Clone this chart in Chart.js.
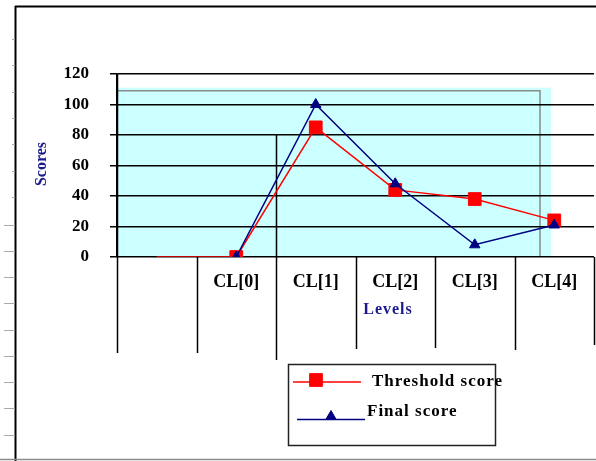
<!DOCTYPE html>
<html><head><meta charset="utf-8">
<script src="https://cdn.jsdelivr.net/npm/chart.js@4/dist/chart.umd.min.js"></script>
<style>html,body{margin:0;padding:0;background:#fff;overflow:hidden}</style>
</head><body>
<canvas id="c" width="596" height="461"></canvas>
<script>
const categories = ['', 'CL[0]', 'CL[1]', 'CL[2]', 'CL[3]', 'CL[4]'];
const thresholdScore = [0, 0, 85, 44, 38, 24];
const finalScore = [null, 0, 100, 48, 8, 21];
const yTickValues = [0, 20, 40, 60, 80, 100, 120];
const seriesNames = ['Threshold score', 'Final score'];
const yTitle = 'Scores';
const xTitle = 'Levels';

const RED = '#ff0000', NAVY = '#000080', TITLE_BLUE = '#1a1a8c';
const FONT = 'Liberation Serif';

const deco = {
  id: 'deco',
  beforeDraw(chart) {
    const {ctx, chartArea: ca, scales: {x, y}} = chart;
    ctx.save();
    ctx.fillStyle = '#fff';
    ctx.fillRect(0, 0, chart.width, chart.height);
    const cTop = y.getPixelForValue(111);
    ctx.fillStyle = '#ccffff';
    ctx.fillRect(ca.left, cTop, (ca.right - 43) - ca.left, ca.bottom - cTop);
    ctx.strokeStyle = '#8a8a8a';
    ctx.lineWidth = 1.5;
    ctx.beginPath();
    const gy = y.getPixelForValue(109);
    ctx.moveTo(ca.left, gy);
    ctx.lineTo(ca.right - 54, gy);
    ctx.lineTo(ca.right - 54, ca.bottom);
    ctx.stroke();
    ctx.restore();
  },
  beforeDatasetsDraw(chart) {
    const {ctx, chartArea: ca, scales: {x, y}} = chart;
    const bottoms = [353, 353, 360, 349, 348, 350, 345];
    ctx.save();
    ctx.strokeStyle = '#000';
    ctx.lineWidth = 1.5;
    for (let i = 0; i <= categories.length; i++) {
      const bx = Math.round(x.getPixelForValue(i - 0.5)) + 0.5;
      const top = i === 0 ? ca.top : (i === 2 ? y.getPixelForValue(80) : ca.bottom);
      ctx.beginPath();
      ctx.moveTo(bx, top);
      ctx.lineTo(bx, bottoms[i]);
      ctx.stroke();
    }
    ctx.restore();
  },
  afterDraw(chart) {
    const {ctx} = chart;
    const ds = chart.data.datasets;
    ctx.save();
    ctx.fillStyle = TITLE_BLUE;
    ctx.font = `bold 16px "${FONT}"`;
    ctx.textAlign = 'center';
    ctx.textBaseline = 'middle';
    ctx.save();
    ctx.translate(42, 164);
    ctx.rotate(-Math.PI / 2);
    ctx.fillText(yTitle, 0, 0);
    ctx.restore();
    ctx.font = `bold 16px "${FONT}"`;
    ctx.letterSpacing = '1px';
    ctx.fillText(xTitle, 388, 310);

    ctx.letterSpacing = '0px';
    ctx.strokeStyle = '#222';
    ctx.lineWidth = 1.5;
    ctx.strokeRect(288.5, 364.5, 207, 81);
    const rows = [
      {d: ds.find(d => d.label === seriesNames[0]), lx0: 293, lx1: 361, ly: 382, px: 316, py: 380, tx: 372, ty: 382},
      {d: ds.find(d => d.label === seriesNames[1]), lx0: 297, lx1: 365, ly: 419.5, px: 331, py: 416.5, tx: 367, ty: 412}
    ];
    rows.forEach(r => {
      ctx.strokeStyle = r.d.borderColor;
      ctx.lineWidth = r.d.borderWidth;
      ctx.beginPath();
      ctx.moveTo(r.lx0, r.ly);
      ctx.lineTo(r.lx1, r.ly);
      ctx.stroke();
      ctx.fillStyle = r.d.pointBackgroundColor;
      ctx.strokeStyle = r.d.pointBorderColor;
      ctx.lineWidth = 1;
      const rad = Array.isArray(r.d.pointRadius) ? r.d.pointRadius[r.d.pointRadius.length - 1] : r.d.pointRadius;
      Chart.helpers.drawPoint(ctx, {pointStyle: r.d.pointStyle, radius: rad, rotation: 0, borderWidth: 1}, r.px, r.py);
      ctx.fillStyle = '#000';
      ctx.font = `bold 17px "${FONT}"`;
      ctx.letterSpacing = '1px';
      ctx.textAlign = 'left';
      ctx.textBaseline = 'middle';
      ctx.fillText(r.d.label, r.tx, r.ty);
      ctx.letterSpacing = '0px';
    });

    ctx.strokeStyle = '#000';
    ctx.lineWidth = 2;
    ctx.beginPath();
    ctx.moveTo(15, 6.5);
    ctx.lineTo(596, 6.5);
    ctx.moveTo(15.5, 6);
    ctx.lineTo(15.5, 461);
    ctx.stroke();
    ctx.strokeStyle = '#8a8a8a';
    ctx.lineWidth = 1.5;
    ctx.beginPath();
    ctx.moveTo(0, 459.5);
    ctx.lineTo(596, 459.5);
    ctx.stroke();
    ctx.strokeStyle = '#aaa';
    ctx.lineWidth = 1;
    const shortMarks = [39, 65, 92, 118, 144, 171, 197];
    const longMarks = [225, 251, 277, 303, 330, 356, 382, 408, 435];
    ctx.beginPath();
    shortMarks.forEach(m => { ctx.moveTo(12, m + 0.5); ctx.lineTo(15, m + 0.5); });
    longMarks.forEach(m => { ctx.moveTo(4, m + 0.5); ctx.lineTo(15, m + 0.5); });
    ctx.stroke();
    ctx.restore();
  }
};

new Chart(document.getElementById('c'), {
  type: 'line',
  data: {
    labels: categories,
    datasets: [
      {
        label: seriesNames[0],
        data: thresholdScore,
        borderColor: RED,
        backgroundColor: RED,
        pointBackgroundColor: RED,
        pointBorderColor: RED,
        borderWidth: 1.5,
        pointStyle: 'rect',
        pointRadius: [0, 9, 9, 9, 9, 9],
        pointBorderWidth: 1,
        tension: 0,
        order: 2
      },
      {
        label: seriesNames[1],
        data: finalScore,
        borderColor: NAVY,
        backgroundColor: NAVY,
        pointBackgroundColor: NAVY,
        pointBorderColor: NAVY,
        borderWidth: 1.5,
        pointStyle: 'triangle',
        pointRadius: 6,
        pointBorderWidth: 1,
        tension: 0,
        order: 1
      }
    ]
  },
  options: {
    responsive: false,
    animation: false,
    devicePixelRatio: 1,
    layout: {autoPadding: false, padding: {top: 74, right: 2, left: 0, bottom: 0}},
    plugins: {legend: {display: false}, tooltip: {enabled: false}},
    scales: {
      x: {
        type: 'category',
        offset: true,
        grid: {display: false, drawTicks: false},
        border: {display: false},
        ticks: {padding: 15, color: '#000', autoSkip: false, maxRotation: 0,
                font: {family: FONT, size: 18, weight: 'bold'}},
        afterFit: s => { s.height = 461 - 257; s.paddingLeft = 0; s.paddingRight = 0; }
      },
      y: {
        min: 0, max: 120,
        afterBuildTicks: s => { s.ticks = yTickValues.map(v => ({value: v})); },
        grid: {color: '#000', lineWidth: 1.5, drawTicks: true, tickLength: 7, tickColor: '#000'},
        border: {display: true, color: '#000', width: 1.5},
        ticks: {padding: 21, color: '#000', font: {family: FONT, size: 17, weight: 'bold'}},
        afterFit: s => { s.width = 117; s.paddingTop = 0; s.paddingBottom = 0; }
      }
    }
  },
  plugins: [deco]
});
</script>
</body></html>
